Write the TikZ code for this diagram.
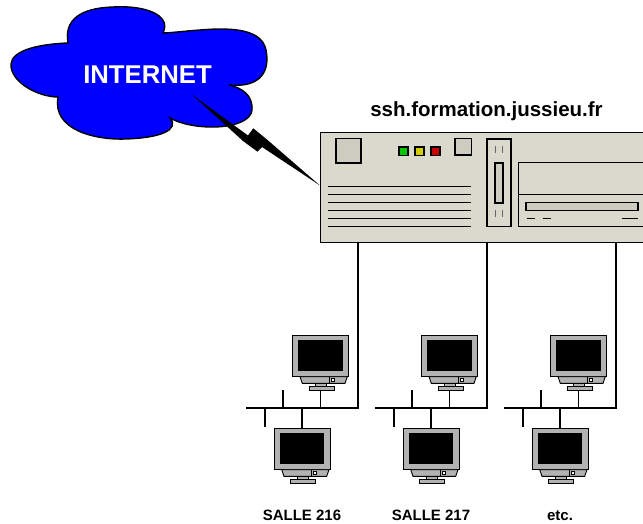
\documentclass[tikz,border=0pt]{standalone}
\usepackage{fontspec}
\setmainfont{Liberation Sans}
\definecolor{cloudblue}{RGB}{0,0,255}
\definecolor{srvbody}{RGB}{217,217,206}
\definecolor{srvpart}{RGB}{204,204,193}
\definecolor{monframe}{RGB}{178,178,178}
\definecolor{ledgreen}{RGB}{0,200,0}
\definecolor{ledyellow}{RGB}{212,206,0}
\definecolor{ledred}{RGB}{200,0,0}

% one workstation: frame, screen, base and foot, anchored at its top-left corner
\newcommand\monitorat[2]{%
  \node[monbox] (#1) at (#2) {};
  \begin{scope}[shift={(#1.north west)},line width=0.9pt]
    \draw[fill=monframe] (0,0) rectangle (56,41.7);
    \fill[black] (6,5) rectangle (50.4,35.7);
    \draw[fill=monframe] (7.7,41.7) -- (55,41.7) -- (52.7,48.3) -- (10,48.3) -- cycle;
    \draw (37,41.7) -- (37,48.3);
    \draw[fill=white,line width=0.7pt] (39,43.4) rectangle (42,46.4);
    \draw[fill=monframe] (23.4,48.3) rectangle (34.4,51.7);
    \draw[fill=monframe] (16.7,51.7) rectangle (41.7,55.7);
  \end{scope}}

\begin{document}
\begin{tikzpicture}[x=1pt,y=-1pt,
  outline/.style={draw=black,line width=1.4pt},
  fineline/.style={draw=black,line width=0.9pt},
  wire/.style={draw=black,line width=1.5pt},
  monbox/.style={minimum width=56pt,minimum height=55.7pt,inner sep=0pt,outer sep=0pt,anchor=north west},
  roomlabel/.style={font=\bfseries\fontsize{15}{15}\selectfont,anchor=base,inner sep=0pt},
  led/.style={outline,line width=1.1pt}]
\clip (0,0) rectangle (643,524);

% --- cloud ---
\draw[fill=cloudblue,line width=1.4pt]
  (68,43) .. controls (40,44) and (12,50) .. (11,64)
  .. controls (10,82) and (38,97) .. (58,97)
  .. controls (52,130) and (95,140) .. (125,139)
  .. controls (160,138) and (180,130) .. (170,118)
  .. controls (195,132) and (250,130) .. (252,110)
  .. controls (253,95) and (242,88) .. (229,85)
  .. controls (262,88) and (270,70) .. (266,50)
  .. controls (262,30) and (235,27) .. (200,30)
  .. controls (185,31) and (170,33) .. (163,33)
  .. controls (172,15) and (145,5) .. (113,7)
  .. controls (80,8) and (64,20) .. cycle;
\node[font=\bfseries\fontsize{25.7}{26}\selectfont,text=white,anchor=base,inner sep=0pt]
  (net) at (147.5,83.3) {INTERNET};

% --- server ---
\node[outline,fill=srvbody,minimum width=360pt,minimum height=110pt,
      inner sep=0pt,anchor=north west] (srv) at (320,131.7) {};
\node[font=\bfseries\fontsize{20.5}{21}\selectfont,anchor=base,inner sep=0pt]
  (srvname) at (486.5,116.5) {ssh.formation.jussieu.fr};
\draw[outline,fill=srvpart] (336,138.3) rectangle (361,163);
\draw[led,fill=ledgreen]  (399,147) rectangle (408,155.3);
\draw[led,fill=ledyellow] (415,147) rectangle (424,155.3);
\draw[led,fill=ledred]    (431,147) rectangle (440,155.3);
\draw[outline,fill=srvpart] (455,138.3) rectangle (471.7,155);
\foreach \y in {186.7,194.4,202.3,210.3,218.1,226}
  \draw[fineline] (328,\y) -- (471,\y);
% disk slot
\draw[outline] (487,139) rectangle (511,226.3);
\draw[outline,fill=srvpart] (495,163) rectangle (503,203);
\draw[gray!80!black,line width=0.9pt] (495,146.5) -- (495,153.5) (502.7,146.5) -- (502.7,153.5)
  (495,210) -- (495,217.3) (502.7,210) -- (502.7,217.3);
% drive bay
\draw[outline] (518.3,162.3) rectangle (690,226.3);
\draw[fineline] (518.3,194.3) -- (690,194.3);
\draw[outline,fill=srvpart] (526,202.3) rectangle (638,210.7);
\draw[fineline] (526.7,218) -- (535,218) (542.7,218) -- (550.7,218) (621.7,218) -- (638.3,218);

% --- wireless link ---
\fill[black] (191.7,94.3) -- (248,135.5) -- (253.3,128.3) -- (267.5,140)
  -- (320,185.5) -- (262,147) -- (257.5,151.7) -- (243,141) -- cycle;

% --- rooms ---
\foreach \k/\lab in {0/SALLE 216,1/SALLE 217,2/etc.}{
  \pgfmathsetmacro\dx{129*\k}
  \begin{scope}[shift={(\dx,0)}]
    \coordinate (busL\k) at (246,408);
    \coordinate (busR\k) at (358,408);
    \coordinate (tipU\k) at (283,390);
    \coordinate (tipD\k) at (265,427);
    \monitorat{mt\k}{292.3,335}
    \monitorat{mb\k}{274,428}
    \node[roomlabel] (lab\k) at (302,520) {\lab};
  \end{scope}
  \draw[wire] (srv.south -| busR\k) -- (busR\k) -- (busL\k);
  \draw[wire] (tipU\k) -- (tipU\k |- busL\k);
  \draw[wire] (tipD\k) -- (tipD\k |- busL\k);
  \draw[wire] (mt\k.south) -- (mt\k.south |- busL\k);
  \draw[wire] (mb\k.north) -- (mb\k.north |- busL\k);
}
\end{tikzpicture}
\end{document}
